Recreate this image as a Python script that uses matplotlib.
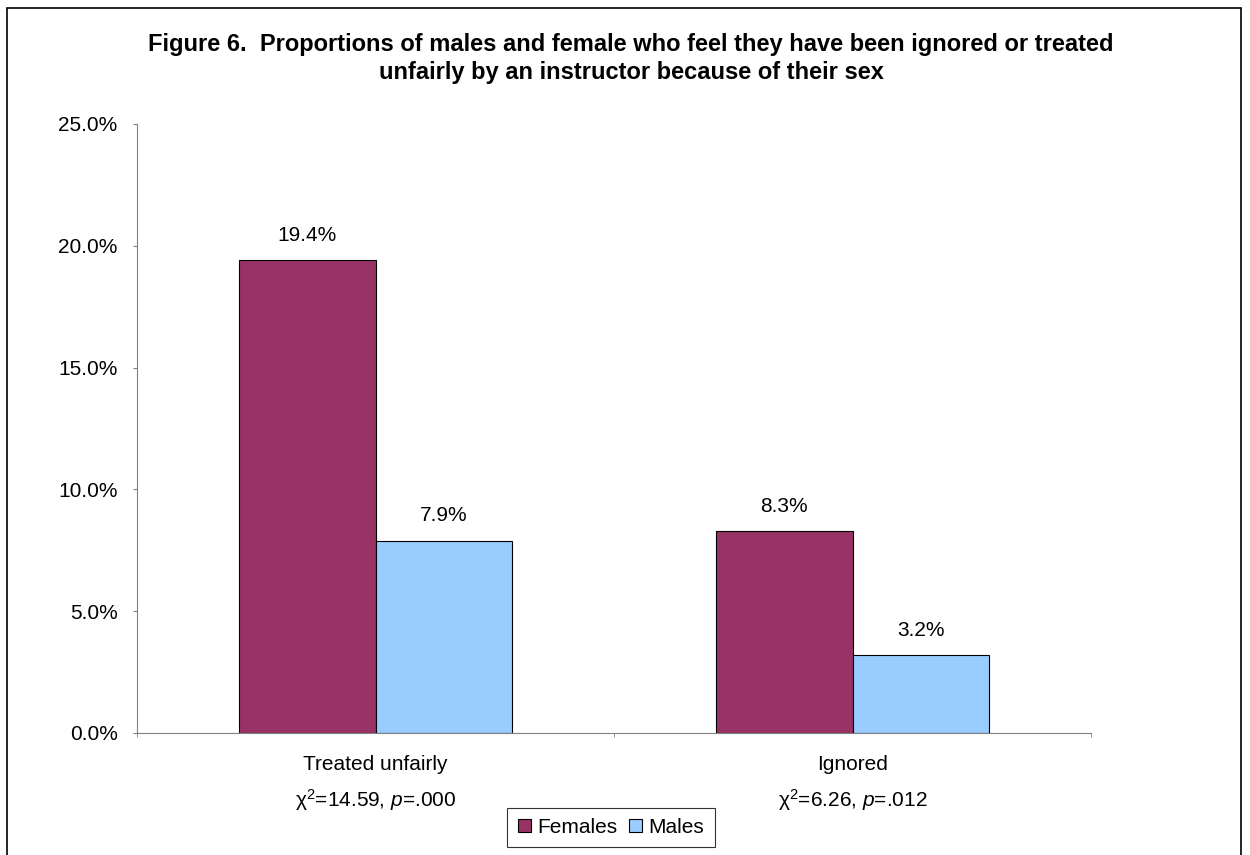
import matplotlib
matplotlib.use("Agg")
import matplotlib.pyplot as plt
from matplotlib.patches import Rectangle
import numpy as np

# data (percent)
categories = ["Treated unfairly", "Ignored"]
chi_labels = [r"$\mathrm{χ}^{2}$=14.59, $\mathit{p}$=.000", r"$\mathrm{χ}^{2}$=6.26, $\mathit{p}$=.012"]
females = [19.4, 8.3]
males = [7.9, 3.2]
series_names = ["Females", "Males"]
colors = ["#993366", "#99CCFF"]
yticks = [0, 5, 10, 15, 20, 25]

plt.rcParams["font.family"] = ["Liberation Sans", "DejaVu Sans"]
plt.rcParams["mathtext.fontset"] = "custom"
plt.rcParams["mathtext.rm"] = "Liberation Sans"
plt.rcParams["mathtext.it"] = "Liberation Sans:italic"

fig = plt.figure(figsize=(12.5, 8.55), dpi=100)
ax = fig.add_axes([0.1096, 0.1427, 0.7632, 0.7123])

fs = 15
x = np.arange(len(categories))
w = 0.287
b1 = ax.bar(x - w / 2, females, w, color=colors[0], edgecolor="black", linewidth=0.8, label=series_names[0])
b2 = ax.bar(x + w / 2, males, w, color=colors[1], edgecolor="black", linewidth=0.8, label=series_names[1])
for bars in (b1, b2):
    ax.bar_label(bars, labels=[f"{v:.1f}%" for v in bars.datavalues], padding=11, fontsize=fs)

ax.set_xlim(-0.5, 1.5)
ax.set_ylim(0, 25)
ax.set_yticks(yticks)
ax.set_yticklabels([f"{v:.1f}%" for v in yticks], fontsize=fs)

ax.set_xticks(x)
ax.set_xticklabels([])
ax.tick_params(axis="x", which="major", length=0)
ax.set_xticks([-0.5, 0.5, 1.5], minor=True)
ax.tick_params(axis="x", which="minor", length=3, color="#808080", direction="out")
ax.tick_params(axis="y", length=3, color="#808080", direction="out", pad=11)

for i in range(len(categories)):
    ax.annotate(categories[i], xy=(x[i], 0), xycoords="data", xytext=(0, -32), textcoords="offset pixels",
                ha="center", va="center", fontsize=fs)
    ax.annotate(chi_labels[i], xy=(x[i], 0), xycoords="data", xytext=(0, -67), textcoords="offset pixels",
                ha="center", va="center", fontsize=fs)

for s in ["top", "right"]:
    ax.spines[s].set_visible(False)
for s in ["left", "bottom"]:
    ax.spines[s].set_color("#808080")

fig.text(0.505, 0.940, "Figure 6.  Proportions of males and female who feel they have been ignored or treated",
         ha="center", va="baseline", fontsize=17, fontweight="bold")
fig.text(0.505, 0.908, "unfairly by an instructor because of their sex",
         ha="center", va="baseline", fontsize=17, fontweight="bold")

leg = fig.legend(handles=[b1, b2], labels=series_names, loc="center", bbox_to_anchor=(0.4888, 0.0322),
                 ncol=2, fontsize=fs, frameon=True, fancybox=False, handlelength=0.62, handleheight=0.62,
                 handletextpad=0.3, columnspacing=0.6, borderpad=0.5)
leg.get_frame().set_edgecolor("black")
leg.get_frame().set_linewidth(0.8)

fig.patches.append(Rectangle((0.0056, -0.05), 0.9872, 1.0406, transform=fig.transFigure,
                             fill=False, edgecolor="black", linewidth=1.2))

fig.savefig("out.png", dpi=100)
